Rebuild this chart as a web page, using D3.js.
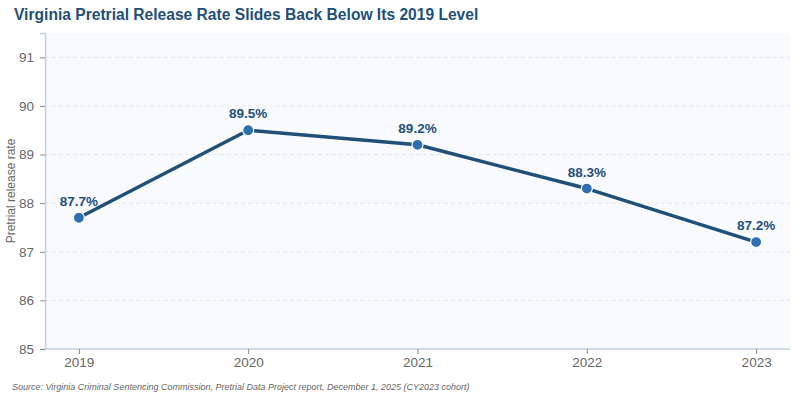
<!DOCTYPE html>
<html><head><meta charset="utf-8">
<script src="https://cdn.jsdelivr.net/npm/d3@7"></script>
<style>body{margin:0;background:#fff;font-family:"Liberation Sans",Arial,sans-serif}</style>
</head><body><svg id="c" width="798" height="400"></svg>
<script>
const years = ["2019","2020","2021","2022","2023"];
const rates = [87.7, 89.5, 89.2, 88.3, 87.2];
const yTicks = [85,86,87,88,89,90,91];

const svg = d3.select("#c");
const m = {l:45, r:8, t:33, b:51};
const W = 798, H = 400;
const x = d3.scalePoint().domain(years).range([m.l, W-m.r]).padding(0.2);
const y = d3.scaleLinear().domain([85, 91.5]).range([H-m.b, m.t]);

svg.append("rect").attr("x",m.l).attr("y",m.t).attr("width",W-m.r-m.l).attr("height",H-m.b-m.t).attr("fill","#f8fafd");

svg.append("g").selectAll("line").data(yTicks).join("line")
  .attr("x1",m.l).attr("x2",W-m.r).attr("y1",d=>y(d)).attr("y2",d=>y(d))
  .attr("stroke","#e3e7ee").attr("stroke-dasharray","4,3").attr("stroke-width",1);

const ya = svg.append("g").attr("transform",`translate(${m.l},0)`)
  .call(d3.axisLeft(y).tickValues(yTicks).tickFormat(d3.format("d")).tickSize(5).tickPadding(6));
ya.select(".domain").attr("stroke","#c3d0e2").attr("stroke-width",1.5);
ya.selectAll(".tick line").attr("stroke","#888");
ya.selectAll("text").attr("fill","#666").attr("font-size","13.5px").attr("font-family","Liberation Sans, Arial, sans-serif");

const xa = svg.append("g").attr("transform",`translate(0,${H-m.b})`)
  .call(d3.axisBottom(x).tickSize(5).tickPadding(3).tickSizeOuter(0));
xa.select(".domain").attr("stroke","#c3d0e2").attr("stroke-width",1.5).attr("d",`M${m.l},0H${W-m.r}`);
xa.selectAll(".tick line").attr("stroke","#888");
xa.selectAll("text").attr("fill","#666").attr("font-size","13.5px").attr("font-family","Liberation Sans, Arial, sans-serif");

const pts = years.map((yr,i)=>({yr, v:rates[i]}));
svg.append("path").datum(pts)
  .attr("d", d3.line().x(d=>x(d.yr)).y(d=>y(d.v)))
  .attr("fill","none").attr("stroke","#1f5078").attr("stroke-width",3.5).attr("stroke-linejoin","round");

svg.append("g").selectAll("circle").data(pts).join("circle")
  .attr("cx",d=>x(d.yr)).attr("cy",d=>y(d.v)).attr("r",5.5)
  .attr("fill","#2e6fb2").attr("stroke","#fff").attr("stroke-width",1.2);

svg.append("g").selectAll("text").data(pts).join("text")
  .attr("x",d=>x(d.yr)).attr("y",d=>y(d.v)-12)
  .attr("text-anchor","middle").attr("font-size","13.5px").attr("font-weight","bold")
  .attr("fill","#1f5078").text(d=>d.v.toFixed(1)+"%");

svg.append("text").attr("x",14).attr("y",20).attr("font-size","15.6px").attr("font-weight","bold")
  .attr("fill","#1f5078").text("Virginia Pretrial Release Rate Slides Back Below Its 2019 Level");

svg.append("text").attr("transform",`translate(15,${(m.t+H-m.b)/2}) rotate(-90)`)
  .attr("text-anchor","middle").attr("font-size","12px").attr("fill","#666").text("Pretrial release rate");

svg.append("text").attr("x",12).attr("y",390).attr("font-size","9px").attr("font-style","italic")
  .attr("fill","#666").text("Source: Virginia Criminal Sentencing Commission, Pretrial Data Project report, December 1, 2025 (CY2023 cohort)");
</script></body></html>
